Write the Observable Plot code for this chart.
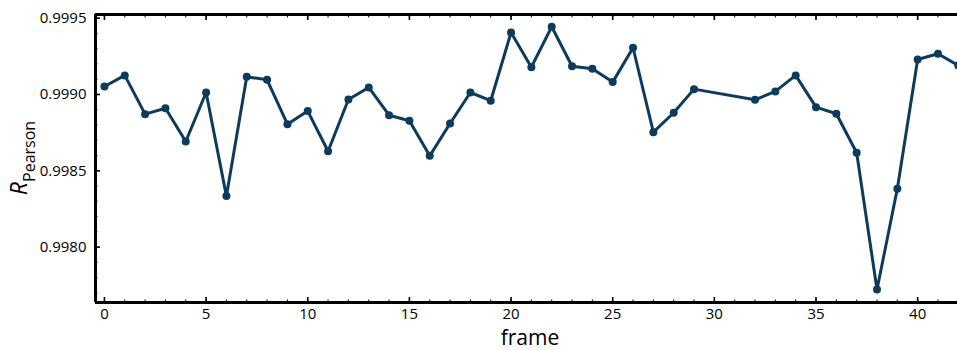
<!DOCTYPE html>
<html>
<head>
<meta charset="utf-8">
<script src="https://cdn.jsdelivr.net/npm/d3@7"></script>
<script src="https://cdn.jsdelivr.net/npm/@observablehq/plot@0.6"></script>
<style>
  html, body { margin: 0; padding: 0; background: #fff; }
  #chart svg { display: block; }
</style>
</head>
<body>
<div id="chart"></div>
<script>
// Pearson correlation per frame (frames 30 and 31 are absent)
const frames = [0, 1, 2, 3, 4, 5, 6, 7, 8, 9, 10, 11, 12, 13, 14, 15, 16, 17, 18, 19,
  20, 21, 22, 23, 24, 25, 26, 27, 28, 29, 32, 33, 34, 35, 36, 37, 38, 39, 40, 41, 42];
const rPearson = [0.999052, 0.999125, 0.998871, 0.998910, 0.998692, 0.999013, 0.998334,
  0.999116, 0.999096, 0.998805, 0.998891, 0.998628, 0.998967, 0.999046, 0.998864,
  0.998828, 0.998598, 0.998810, 0.999013, 0.998959, 0.999406, 0.999179, 0.999444,
  0.999185, 0.999168, 0.999081, 0.999306, 0.998753, 0.998880, 0.999035, 0.998965,
  0.999020, 0.999125, 0.998917, 0.998874, 0.998618, 0.997722, 0.998382, 0.999229,
  0.999267, 0.999190];

const xMajor = [0, 5, 10, 15, 20, 25, 30, 35, 40];
const xMinor = d3.range(0, 42);
const yMajor = [0.9980, 0.9985, 0.9990, 0.9995];
const yMinor = d3.range(9977, 9996).map(v => v / 10000);

const xDomain = [-0.44, 41.96];
const yDomain = [0.997637, 0.999524];

const data = frames.map((f, i) => ({frame: f, r: rPearson[i]}));
const color = "#0d3b5e";
const font = "'Open Sans', sans-serif";

const plot = Plot.plot({
  width: 957,
  height: 350,
  marginLeft: 95,
  marginRight: 0,
  marginTop: 14,
  marginBottom: 48,
  style: {fontFamily: font, background: "#fff", color: "#000"},
  x: {domain: xDomain, label: null},
  y: {domain: yDomain, label: null},
  marks: [
    // tick labels
    Plot.axisX({anchor: "bottom", ticks: xMajor, tickSize: 0, tickPadding: 6, fontSize: 15, tickFormat: d3.format("d"), label: null}),
    Plot.axisY({anchor: "left", ticks: yMajor, tickSize: 0, tickPadding: 9, fontSize: 15, tickFormat: d3.format(".4f"), label: null}),
    // inward tick marks, major and minor, on bottom, top and left
    Plot.axisX({anchor: "bottom", ticks: xMajor, tickSize: -5, strokeWidth: 1.6, text: null, label: null}),
    Plot.axisX({anchor: "bottom", ticks: xMinor, tickSize: -2.5, strokeWidth: 1, text: null, label: null}),
    Plot.axisX({anchor: "top", ticks: xMajor, tickSize: -5, strokeWidth: 1.6, text: null, label: null}),
    Plot.axisX({anchor: "top", ticks: xMinor, tickSize: -2.5, strokeWidth: 1, text: null, label: null}),
    Plot.axisY({anchor: "left", ticks: yMajor, tickSize: -5, strokeWidth: 1.6, text: null, label: null}),
    Plot.axisY({anchor: "left", ticks: yMinor, tickSize: -2.5, strokeWidth: 1, text: null, label: null}),
    // data
    Plot.line(data, {x: "frame", y: "r", stroke: color, strokeWidth: 3, clip: true}),
    Plot.dot(data, {x: "frame", y: "r", fill: color, r: 4, clip: true}),
    // frame: left, bottom, top spines
    Plot.ruleX([xDomain[0]], {strokeWidth: 3, stroke: "#000"}),
    Plot.ruleY([yDomain[0]], {strokeWidth: 3, stroke: "#000"}),
    Plot.ruleY([yDomain[1]], {strokeWidth: 3, stroke: "#000"})
  ]
});

const svgNS = "http://www.w3.org/2000/svg";

// x-axis title
const xt = document.createElementNS(svgNS, "text");
xt.setAttribute("x", (95 + 957) / 2 + 4);
xt.setAttribute("y", 345);
xt.setAttribute("text-anchor", "middle");
xt.setAttribute("font-size", 21);
xt.setAttribute("font-family", font);
xt.setAttribute("fill", "#000");
xt.textContent = "frame";
plot.appendChild(xt);

// y-axis title: italic R with subscript "Pearson"
const yt = document.createElementNS(svgNS, "text");
yt.setAttribute("transform", `translate(27,${(14 + 302) / 2}) rotate(-90)`);
yt.setAttribute("text-anchor", "middle");
yt.setAttribute("font-family", font);
yt.setAttribute("fill", "#000");
const tR = document.createElementNS(svgNS, "tspan");
tR.setAttribute("font-size", 23);
tR.setAttribute("font-style", "italic");
tR.textContent = "R";
const tSub = document.createElementNS(svgNS, "tspan");
tSub.setAttribute("font-size", 16);
tSub.setAttribute("dy", 8);
tSub.textContent = "Pearson";
yt.appendChild(tR);
yt.appendChild(tSub);
plot.appendChild(yt);

document.getElementById("chart").appendChild(plot);
</script>
</body>
</html>
